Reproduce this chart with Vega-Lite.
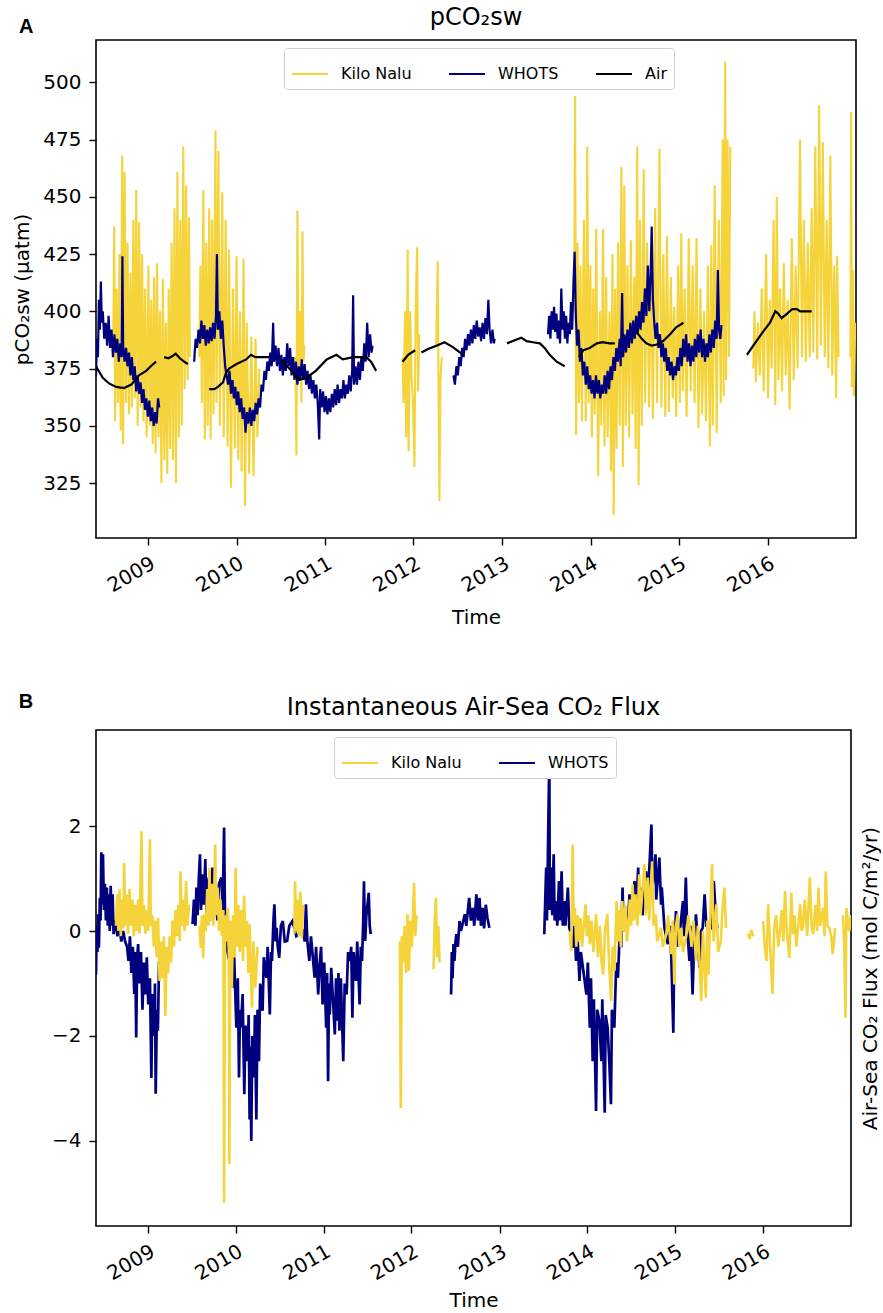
{
"$schema": "https://vega.github.io/schema/vega-lite/v6.json",
"background": "white",
"padding": {"left": 12, "top": 5, "right": 0, "bottom": 0},
"spacing": 63,
"config": {
 "font": "DejaVu Sans",
 "view": {"stroke": "black", "strokeWidth": 1.6},
 "axis": {"labelFont": "DejaVu Sans", "titleFont": "DejaVu Sans", "labelFontSize": 20, "titleFontSize": 20, "titleFontWeight": "normal", "labelColor": "black", "titleColor": "black", "tickColor": "black", "tickSize": 7, "tickWidth": 1.4, "grid": false, "domain": false, "labelPadding": 8},
 "title": {"font": "DejaVu Sans", "fontSize": 24, "fontWeight": "normal", "color": "black", "offset": 10}
},
"resolve": {"scale": {"color": "independent", "x": "independent", "y": "independent"}, "legend": {"color": "independent"}},
"datasets": {
"kA": [
{"t":"2008-08-10","v":385,"g":1},{"t":"2008-08-14","v":437,"g":1},{"t":"2008-08-18","v":352,"g":1},{"t":"2008-08-24","v":410,"g":1},{"t":"2008-08-30","v":360,"g":1},{"t":"2008-09-05","v":425,"g":1},{"t":"2008-09-10","v":348,"g":1},{"t":"2008-09-16","v":468,"g":1},{"t":"2008-09-20","v":342,"g":1},{"t":"2008-09-26","v":461,"g":1},{"t":"2008-10-02","v":360,"g":1},{"t":"2008-10-08","v":430,"g":1},{"t":"2008-10-14","v":355,"g":1},{"t":"2008-10-20","v":417,"g":1},{"t":"2008-10-26","v":358,"g":1},{"t":"2008-11-01","v":440,"g":1},{"t":"2008-11-07","v":362,"g":1},{"t":"2008-11-13","v":453,"g":1},{"t":"2008-11-19","v":350,"g":1},{"t":"2008-11-25","v":439,"g":1},{"t":"2008-12-01","v":358,"g":1},{"t":"2008-12-07","v":425,"g":1},{"t":"2008-12-13","v":352,"g":1},{"t":"2008-12-19","v":410,"g":1},{"t":"2008-12-26","v":345,"g":1},{"t":"2009-01-02","v":420,"g":1},{"t":"2009-01-08","v":350,"g":1},{"t":"2009-01-14","v":405,"g":1},{"t":"2009-01-20","v":342,"g":1},{"t":"2009-01-26","v":415,"g":1},{"t":"2009-02-01","v":338,"g":1},{"t":"2009-02-07","v":421,"g":1},{"t":"2009-02-13","v":345,"g":1},{"t":"2009-02-19","v":400,"g":1},{"t":"2009-02-25","v":325,"g":1},{"t":"2009-03-03","v":414,"g":1},{"t":"2009-03-09","v":335,"g":1},{"t":"2009-03-15","v":395,"g":1},{"t":"2009-03-21","v":329,"g":1},{"t":"2009-03-27","v":410,"g":1},{"t":"2009-04-02","v":340,"g":1},{"t":"2009-04-08","v":430,"g":1},{"t":"2009-04-14","v":335,"g":1},{"t":"2009-04-20","v":445,"g":1},{"t":"2009-04-26","v":325,"g":1},{"t":"2009-05-02","v":461,"g":1},{"t":"2009-05-08","v":345,"g":1},{"t":"2009-05-14","v":440,"g":1},{"t":"2009-05-20","v":350,"g":1},{"t":"2009-05-26","v":472,"g":1},{"t":"2009-06-01","v":366,"g":1},{"t":"2009-06-07","v":455,"g":1},{"t":"2009-06-13","v":370,"g":1},{"t":"2009-06-19","v":441,"g":1},{"t":"2009-06-22","v":380,"g":1},
{"t":"2009-07-31","v":380,"g":2},{"t":"2009-08-05","v":420,"g":2},{"t":"2009-08-11","v":360,"g":2},{"t":"2009-08-17","v":453,"g":2},{"t":"2009-08-23","v":344,"g":2},{"t":"2009-08-29","v":430,"g":2},{"t":"2009-09-04","v":350,"g":2},{"t":"2009-09-10","v":445,"g":2},{"t":"2009-09-16","v":344,"g":2},{"t":"2009-09-22","v":440,"g":2},{"t":"2009-09-28","v":355,"g":2},{"t":"2009-10-06","v":479,"g":2},{"t":"2009-10-10","v":360,"g":2},{"t":"2009-10-18","v":470,"g":2},{"t":"2009-10-24","v":350,"g":2},{"t":"2009-11-03","v":452,"g":2},{"t":"2009-11-09","v":345,"g":2},{"t":"2009-11-17","v":440,"g":2},{"t":"2009-11-25","v":341,"g":2},{"t":"2009-12-01","v":427,"g":2},{"t":"2009-12-09","v":323,"g":2},{"t":"2009-12-17","v":410,"g":2},{"t":"2009-12-25","v":340,"g":2},{"t":"2010-01-01","v":424,"g":2},{"t":"2010-01-08","v":335,"g":2},{"t":"2010-01-15","v":400,"g":2},{"t":"2010-01-22","v":330,"g":2},{"t":"2010-01-30","v":423,"g":2},{"t":"2010-02-05","v":315,"g":2},{"t":"2010-02-12","v":395,"g":2},{"t":"2010-02-22","v":329,"g":2},{"t":"2010-03-03","v":389,"g":2},{"t":"2010-03-12","v":328,"g":2},{"t":"2010-03-20","v":388,"g":2},{"t":"2010-03-28","v":345,"g":2},{"t":"2010-04-05","v":375,"g":2},
{"t":"2010-09-01","v":380,"g":3},{"t":"2010-09-05","v":337,"g":3},{"t":"2010-09-09","v":444,"g":3},{"t":"2010-09-14","v":370,"g":3},{"t":"2010-09-20","v":400,"g":3},{"t":"2010-09-26","v":360,"g":3},{"t":"2010-09-30","v":435,"g":3},{"t":"2010-10-04","v":378,"g":3},{"t":"2010-10-08","v":385,"g":3},
{"t":"2011-11-17","v":380,"g":4},{"t":"2011-11-21","v":360,"g":4},{"t":"2011-11-27","v":400,"g":4},{"t":"2011-12-02","v":345,"g":4},{"t":"2011-12-08","v":427,"g":4},{"t":"2011-12-12","v":339,"g":4},{"t":"2011-12-18","v":400,"g":4},{"t":"2011-12-24","v":372,"g":4},{"t":"2011-12-30","v":360,"g":4},{"t":"2012-01-05","v":332,"g":4},{"t":"2012-01-10","v":400,"g":4},{"t":"2012-01-16","v":428,"g":4},{"t":"2012-01-20","v":365,"g":4},{"t":"2012-01-25","v":390,"g":4},
{"t":"2012-04-04","v":385,"g":5},{"t":"2012-04-10","v":422,"g":5},{"t":"2012-04-14","v":360,"g":5},{"t":"2012-04-17","v":317,"g":5},{"t":"2012-04-21","v":370,"g":5},{"t":"2012-04-27","v":380,"g":5},
{"t":"2013-10-25","v":400,"g":6},{"t":"2013-10-29","v":494,"g":6},{"t":"2013-11-02","v":346,"g":6},{"t":"2013-11-08","v":430,"g":6},{"t":"2013-11-14","v":360,"g":6},{"t":"2013-11-20","v":420,"g":6},{"t":"2013-11-26","v":352,"g":6},{"t":"2013-12-04","v":440,"g":6},{"t":"2013-12-12","v":352,"g":6},{"t":"2013-12-18","v":472,"g":6},{"t":"2013-12-24","v":360,"g":6},{"t":"2013-12-31","v":420,"g":6},{"t":"2014-01-06","v":345,"g":6},{"t":"2014-01-12","v":410,"g":6},{"t":"2014-01-18","v":355,"g":6},{"t":"2014-01-24","v":436,"g":6},{"t":"2014-02-01","v":328,"g":6},{"t":"2014-02-08","v":400,"g":6},{"t":"2014-02-14","v":350,"g":6},{"t":"2014-02-21","v":436,"g":6},{"t":"2014-02-27","v":341,"g":6},{"t":"2014-03-06","v":415,"g":6},{"t":"2014-03-12","v":345,"g":6},{"t":"2014-03-20","v":400,"g":6},{"t":"2014-03-26","v":330,"g":6},{"t":"2014-04-01","v":425,"g":6},{"t":"2014-04-06","v":311,"g":6},{"t":"2014-04-12","v":410,"g":6},{"t":"2014-04-18","v":340,"g":6},{"t":"2014-04-24","v":430,"g":6},{"t":"2014-05-01","v":350,"g":6},{"t":"2014-05-08","v":463,"g":6},{"t":"2014-05-14","v":332,"g":6},{"t":"2014-05-20","v":455,"g":6},{"t":"2014-05-26","v":350,"g":6},{"t":"2014-06-02","v":420,"g":6},{"t":"2014-06-09","v":345,"g":6},{"t":"2014-06-16","v":431,"g":6},{"t":"2014-06-23","v":355,"g":6},{"t":"2014-06-30","v":415,"g":6},{"t":"2014-07-06","v":340,"g":6},{"t":"2014-07-12","v":472,"g":6},{"t":"2014-07-18","v":324,"g":6},{"t":"2014-07-24","v":440,"g":6},{"t":"2014-07-31","v":350,"g":6},{"t":"2014-08-08","v":462,"g":6},{"t":"2014-08-14","v":360,"g":6},{"t":"2014-08-22","v":430,"g":6},{"t":"2014-08-30","v":358,"g":6},{"t":"2014-09-07","v":420,"g":6},{"t":"2014-09-15","v":353,"g":6},{"t":"2014-09-24","v":445,"g":6},{"t":"2014-10-02","v":360,"g":6},{"t":"2014-10-12","v":471,"g":6},{"t":"2014-10-20","v":358,"g":6},{"t":"2014-10-28","v":425,"g":6},{"t":"2014-11-05","v":354,"g":6},{"t":"2014-11-12","v":433,"g":6},{"t":"2014-11-20","v":356,"g":6},{"t":"2014-11-28","v":415,"g":6},{"t":"2014-12-06","v":362,"g":6},{"t":"2014-12-12","v":402,"g":6},{"t":"2014-12-20","v":354,"g":6},{"t":"2014-12-28","v":420,"g":6},{"t":"2015-01-04","v":360,"g":6},{"t":"2015-01-10","v":434,"g":6},{"t":"2015-01-16","v":365,"g":6},{"t":"2015-01-24","v":410,"g":6},{"t":"2015-02-01","v":354,"g":6},{"t":"2015-02-10","v":432,"g":6},{"t":"2015-02-18","v":365,"g":6},{"t":"2015-02-26","v":420,"g":6},{"t":"2015-03-06","v":360,"g":6},{"t":"2015-03-14","v":432,"g":6},{"t":"2015-03-22","v":349,"g":6},{"t":"2015-03-30","v":410,"g":6},{"t":"2015-04-06","v":355,"g":6},{"t":"2015-04-14","v":400,"g":6},{"t":"2015-04-22","v":352,"g":6},{"t":"2015-04-30","v":420,"g":6},{"t":"2015-05-08","v":341,"g":6},{"t":"2015-05-14","v":429,"g":6},{"t":"2015-05-20","v":350,"g":6},{"t":"2015-05-28","v":455,"g":6},{"t":"2015-06-05","v":347,"g":6},{"t":"2015-06-14","v":440,"g":6},{"t":"2015-06-22","v":360,"g":6},{"t":"2015-06-30","v":475,"g":6},{"t":"2015-07-04","v":363,"g":6},{"t":"2015-07-10","v":509,"g":6},{"t":"2015-07-14","v":370,"g":6},{"t":"2015-07-20","v":475,"g":6},{"t":"2015-07-26","v":380,"g":6},{"t":"2015-07-31","v":472,"g":6},
{"t":"2015-11-03","v":375,"g":7},{"t":"2015-11-08","v":400,"g":7},{"t":"2015-11-14","v":369,"g":7},{"t":"2015-11-22","v":395,"g":7},{"t":"2015-11-30","v":372,"g":7},{"t":"2015-12-08","v":410,"g":7},{"t":"2015-12-16","v":365,"g":7},{"t":"2015-12-26","v":425,"g":7},{"t":"2016-01-03","v":362,"g":7},{"t":"2016-01-10","v":405,"g":7},{"t":"2016-01-18","v":375,"g":7},{"t":"2016-01-26","v":440,"g":7},{"t":"2016-02-02","v":359,"g":7},{"t":"2016-02-08","v":450,"g":7},{"t":"2016-02-15","v":370,"g":7},{"t":"2016-02-22","v":410,"g":7},{"t":"2016-03-01","v":365,"g":7},{"t":"2016-03-08","v":421,"g":7},{"t":"2016-03-16","v":372,"g":7},{"t":"2016-03-24","v":405,"g":7},{"t":"2016-04-01","v":357,"g":7},{"t":"2016-04-10","v":432,"g":7},{"t":"2016-04-18","v":370,"g":7},{"t":"2016-04-26","v":420,"g":7},{"t":"2016-05-04","v":375,"g":7},{"t":"2016-05-14","v":475,"g":7},{"t":"2016-05-22","v":380,"g":7},{"t":"2016-05-30","v":440,"g":7},{"t":"2016-06-07","v":378,"g":7},{"t":"2016-06-15","v":430,"g":7},{"t":"2016-06-23","v":380,"g":7},{"t":"2016-07-01","v":445,"g":7},{"t":"2016-07-08","v":382,"g":7},{"t":"2016-07-16","v":472,"g":7},{"t":"2016-07-24","v":379,"g":7},{"t":"2016-08-01","v":490,"g":7},{"t":"2016-08-08","v":385,"g":7},{"t":"2016-08-16","v":474,"g":7},{"t":"2016-08-24","v":380,"g":7},{"t":"2016-09-01","v":440,"g":7},{"t":"2016-09-08","v":375,"g":7},{"t":"2016-09-16","v":468,"g":7},{"t":"2016-09-24","v":372,"g":7},{"t":"2016-10-02","v":420,"g":7},{"t":"2016-10-10","v":362,"g":7},{"t":"2016-10-14","v":424,"g":7},{"t":"2016-10-20","v":380,"g":7},
{"t":"2016-12-08","v":380,"g":8},{"t":"2016-12-11","v":487,"g":8},{"t":"2016-12-14","v":367,"g":8},{"t":"2016-12-18","v":418,"g":8},{"t":"2016-12-22","v":363,"g":8},{"t":"2016-12-28","v":395,"g":8}
],
"wA": [
{"t":"2008-05-31","v":372,"g":11},{"t":"2008-06-04","v":388,"g":11},{"t":"2008-06-08","v":380,"g":11},{"t":"2008-06-12","v":405,"g":11},{"t":"2008-06-16","v":392,"g":11},{"t":"2008-06-20","v":413,"g":11},{"t":"2008-06-24","v":395,"g":11},{"t":"2008-06-28","v":400,"g":11},{"t":"2008-07-04","v":388,"g":11},{"t":"2008-07-10","v":395,"g":11},{"t":"2008-07-16","v":385,"g":11},{"t":"2008-07-22","v":398,"g":11},{"t":"2008-07-28","v":384,"g":11},{"t":"2008-08-03","v":392,"g":11},{"t":"2008-08-09","v":380,"g":11},{"t":"2008-08-15","v":390,"g":11},{"t":"2008-08-21","v":382,"g":11},{"t":"2008-08-27","v":388,"g":11},{"t":"2008-09-02","v":378,"g":11},{"t":"2008-09-08","v":386,"g":11},{"t":"2008-09-14","v":380,"g":11},{"t":"2008-09-17","v":424,"g":11},{"t":"2008-09-20","v":385,"g":11},{"t":"2008-09-26","v":378,"g":11},{"t":"2008-10-02","v":384,"g":11},{"t":"2008-10-08","v":376,"g":11},{"t":"2008-10-14","v":382,"g":11},{"t":"2008-10-20","v":372,"g":11},{"t":"2008-10-26","v":380,"g":11},{"t":"2008-11-01","v":370,"g":11},{"t":"2008-11-07","v":376,"g":11},{"t":"2008-11-13","v":365,"g":11},{"t":"2008-11-19","v":372,"g":11},{"t":"2008-11-25","v":364,"g":11},{"t":"2008-12-01","v":369,"g":11},{"t":"2008-12-07","v":360,"g":11},{"t":"2008-12-13","v":366,"g":11},{"t":"2008-12-19","v":357,"g":11},{"t":"2008-12-25","v":362,"g":11},{"t":"2008-12-31","v":354,"g":11},{"t":"2009-01-06","v":361,"g":11},{"t":"2009-01-12","v":352,"g":11},{"t":"2009-01-18","v":358,"g":11},{"t":"2009-01-24","v":350,"g":11},{"t":"2009-01-30","v":356,"g":11},{"t":"2009-02-05","v":351,"g":11},{"t":"2009-02-11","v":362,"g":11},{"t":"2009-02-16","v":358,"g":11},
{"t":"2009-07-10","v":378,"g":12},{"t":"2009-07-16","v":388,"g":12},{"t":"2009-07-22","v":384,"g":12},{"t":"2009-07-28","v":392,"g":12},{"t":"2009-08-03","v":386,"g":12},{"t":"2009-08-09","v":396,"g":12},{"t":"2009-08-15","v":388,"g":12},{"t":"2009-08-21","v":394,"g":12},{"t":"2009-08-27","v":385,"g":12},{"t":"2009-09-02","v":392,"g":12},{"t":"2009-09-08","v":386,"g":12},{"t":"2009-09-14","v":393,"g":12},{"t":"2009-09-20","v":387,"g":12},{"t":"2009-09-26","v":395,"g":12},{"t":"2009-10-02","v":388,"g":12},{"t":"2009-10-08","v":398,"g":12},{"t":"2009-10-12","v":425,"g":12},{"t":"2009-10-16","v":392,"g":12},{"t":"2009-10-22","v":400,"g":12},{"t":"2009-10-28","v":388,"g":12},{"t":"2009-11-03","v":396,"g":12},{"t":"2009-11-09","v":385,"g":12},{"t":"2009-11-15","v":376,"g":12},{"t":"2009-11-21","v":372,"g":12},{"t":"2009-11-27","v":368,"g":12},{"t":"2009-12-03","v":374,"g":12},{"t":"2009-12-09","v":364,"g":12},{"t":"2009-12-15","v":370,"g":12},{"t":"2009-12-21","v":362,"g":12},{"t":"2009-12-27","v":367,"g":12},{"t":"2010-01-02","v":359,"g":12},{"t":"2010-01-08","v":365,"g":12},{"t":"2010-01-14","v":356,"g":12},{"t":"2010-01-20","v":362,"g":12},{"t":"2010-01-26","v":353,"g":12},{"t":"2010-02-01","v":358,"g":12},{"t":"2010-02-07","v":347,"g":12},{"t":"2010-02-13","v":356,"g":12},{"t":"2010-02-19","v":351,"g":12},{"t":"2010-02-25","v":358,"g":12},{"t":"2010-03-03","v":350,"g":12},{"t":"2010-03-09","v":357,"g":12},{"t":"2010-03-15","v":352,"g":12},{"t":"2010-03-21","v":360,"g":12},{"t":"2010-03-27","v":355,"g":12},{"t":"2010-04-02","v":362,"g":12},{"t":"2010-04-08","v":358,"g":12},{"t":"2010-04-14","v":368,"g":12},{"t":"2010-04-20","v":365,"g":12},{"t":"2010-04-26","v":374,"g":12},{"t":"2010-05-02","v":370,"g":12},{"t":"2010-05-08","v":378,"g":12},{"t":"2010-05-14","v":374,"g":12},{"t":"2010-05-20","v":382,"g":12},{"t":"2010-05-26","v":376,"g":12},{"t":"2010-06-01","v":395,"g":12},{"t":"2010-06-05","v":378,"g":12},{"t":"2010-06-11","v":385,"g":12},{"t":"2010-06-17","v":376,"g":12},{"t":"2010-06-23","v":384,"g":12},{"t":"2010-06-29","v":374,"g":12},{"t":"2010-07-05","v":381,"g":12},{"t":"2010-07-11","v":372,"g":12},{"t":"2010-07-17","v":380,"g":12},{"t":"2010-07-23","v":374,"g":12},{"t":"2010-07-29","v":386,"g":12},{"t":"2010-08-04","v":376,"g":12},{"t":"2010-08-10","v":384,"g":12},{"t":"2010-08-16","v":372,"g":12},{"t":"2010-08-22","v":380,"g":12},{"t":"2010-08-28","v":370,"g":12},{"t":"2010-09-03","v":378,"g":12},{"t":"2010-09-09","v":368,"g":12},{"t":"2010-09-15","v":376,"g":12},{"t":"2010-09-21","v":370,"g":12},{"t":"2010-09-27","v":379,"g":12},{"t":"2010-10-03","v":370,"g":12},{"t":"2010-10-09","v":377,"g":12},{"t":"2010-10-15","v":368,"g":12},{"t":"2010-10-21","v":374,"g":12},{"t":"2010-10-27","v":366,"g":12},{"t":"2010-11-02","v":372,"g":12},{"t":"2010-11-08","v":364,"g":12},{"t":"2010-11-14","v":370,"g":12},{"t":"2010-11-20","v":362,"g":12},{"t":"2010-11-26","v":368,"g":12},{"t":"2010-12-02","v":360,"g":12},{"t":"2010-12-08","v":344,"g":12},{"t":"2010-12-12","v":366,"g":12},{"t":"2010-12-18","v":358,"g":12},{"t":"2010-12-24","v":365,"g":12},{"t":"2010-12-30","v":356,"g":12},{"t":"2011-01-05","v":363,"g":12},{"t":"2011-01-11","v":355,"g":12},{"t":"2011-01-17","v":362,"g":12},{"t":"2011-01-23","v":356,"g":12},{"t":"2011-01-29","v":364,"g":12},{"t":"2011-02-04","v":358,"g":12},{"t":"2011-02-10","v":366,"g":12},{"t":"2011-02-16","v":359,"g":12},{"t":"2011-02-22","v":368,"g":12},{"t":"2011-02-28","v":360,"g":12},{"t":"2011-03-06","v":366,"g":12},{"t":"2011-03-12","v":362,"g":12},{"t":"2011-03-18","v":370,"g":12},{"t":"2011-03-24","v":362,"g":12},{"t":"2011-03-30","v":368,"g":12},{"t":"2011-04-05","v":364,"g":12},{"t":"2011-04-11","v":372,"g":12},{"t":"2011-04-17","v":365,"g":12},{"t":"2011-04-23","v":374,"g":12},{"t":"2011-04-27","v":407,"g":12},{"t":"2011-05-01","v":368,"g":12},{"t":"2011-05-07","v":376,"g":12},{"t":"2011-05-13","v":368,"g":12},{"t":"2011-05-19","v":378,"g":12},{"t":"2011-05-25","v":370,"g":12},{"t":"2011-05-31","v":380,"g":12},{"t":"2011-06-06","v":374,"g":12},{"t":"2011-06-12","v":386,"g":12},{"t":"2011-06-18","v":378,"g":12},{"t":"2011-06-24","v":395,"g":12},{"t":"2011-06-30","v":380,"g":12},{"t":"2011-07-06","v":390,"g":12},{"t":"2011-07-12","v":382,"g":12},{"t":"2011-07-16","v":385,"g":12},
{"t":"2012-06-14","v":372,"g":13},{"t":"2012-06-20","v":368,"g":13},{"t":"2012-06-26","v":376,"g":13},{"t":"2012-07-02","v":372,"g":13},{"t":"2012-07-08","v":380,"g":13},{"t":"2012-07-14","v":376,"g":13},{"t":"2012-07-20","v":384,"g":13},{"t":"2012-07-26","v":380,"g":13},{"t":"2012-08-01","v":388,"g":13},{"t":"2012-08-07","v":383,"g":13},{"t":"2012-08-13","v":390,"g":13},{"t":"2012-08-19","v":385,"g":13},{"t":"2012-08-25","v":392,"g":13},{"t":"2012-08-31","v":386,"g":13},{"t":"2012-09-06","v":394,"g":13},{"t":"2012-09-12","v":388,"g":13},{"t":"2012-09-18","v":396,"g":13},{"t":"2012-09-24","v":389,"g":13},{"t":"2012-09-30","v":393,"g":13},{"t":"2012-10-06","v":387,"g":13},{"t":"2012-10-12","v":395,"g":13},{"t":"2012-10-18","v":388,"g":13},{"t":"2012-10-24","v":397,"g":13},{"t":"2012-10-30","v":390,"g":13},{"t":"2012-11-05","v":405,"g":13},{"t":"2012-11-10","v":392,"g":13},{"t":"2012-11-16","v":386,"g":13},{"t":"2012-11-22","v":392,"g":13},{"t":"2012-11-28","v":386,"g":13},{"t":"2012-12-01","v":388,"g":13},
{"t":"2013-07-09","v":390,"g":14},{"t":"2013-07-14","v":398,"g":14},{"t":"2013-07-19","v":388,"g":14},{"t":"2013-07-24","v":400,"g":14},{"t":"2013-07-29","v":392,"g":14},{"t":"2013-08-03","v":402,"g":14},{"t":"2013-08-08","v":391,"g":14},{"t":"2013-08-13","v":399,"g":14},{"t":"2013-08-18","v":388,"g":14},{"t":"2013-08-23","v":396,"g":14},{"t":"2013-08-28","v":386,"g":14},{"t":"2013-09-02","v":410,"g":14},{"t":"2013-09-07","v":392,"g":14},{"t":"2013-09-12","v":400,"g":14},{"t":"2013-09-17","v":388,"g":14},{"t":"2013-09-22","v":398,"g":14},{"t":"2013-09-27","v":386,"g":14},{"t":"2013-10-02","v":395,"g":14},{"t":"2013-10-07","v":390,"g":14},{"t":"2013-10-12","v":404,"g":14},{"t":"2013-10-17","v":392,"g":14},{"t":"2013-10-22","v":412,"g":14},{"t":"2013-10-27","v":426,"g":14},{"t":"2013-11-01","v":398,"g":14},{"t":"2013-11-06","v":385,"g":14},{"t":"2013-11-12","v":392,"g":14},{"t":"2013-11-18","v":378,"g":14},{"t":"2013-11-24","v":384,"g":14},{"t":"2013-11-30","v":372,"g":14},{"t":"2013-12-06","v":378,"g":14},{"t":"2013-12-12","v":368,"g":14},{"t":"2013-12-18","v":376,"g":14},{"t":"2013-12-24","v":366,"g":14},{"t":"2013-12-30","v":372,"g":14},{"t":"2014-01-05","v":364,"g":14},{"t":"2014-01-11","v":370,"g":14},{"t":"2014-01-17","v":362,"g":14},{"t":"2014-01-23","v":372,"g":14},{"t":"2014-01-29","v":364,"g":14},{"t":"2014-02-04","v":370,"g":14},{"t":"2014-02-10","v":362,"g":14},{"t":"2014-02-16","v":368,"g":14},{"t":"2014-02-22","v":364,"g":14},{"t":"2014-02-28","v":372,"g":14},{"t":"2014-03-06","v":364,"g":14},{"t":"2014-03-12","v":374,"g":14},{"t":"2014-03-18","v":366,"g":14},{"t":"2014-03-24","v":376,"g":14},{"t":"2014-03-30","v":370,"g":14},{"t":"2014-04-05","v":380,"g":14},{"t":"2014-04-11","v":374,"g":14},{"t":"2014-04-17","v":384,"g":14},{"t":"2014-04-23","v":378,"g":14},{"t":"2014-05-01","v":388,"g":14},{"t":"2014-05-05","v":376,"g":14},{"t":"2014-05-11","v":408,"g":14},{"t":"2014-05-15","v":380,"g":14},{"t":"2014-05-21","v":390,"g":14},{"t":"2014-05-27","v":382,"g":14},{"t":"2014-06-02","v":392,"g":14},{"t":"2014-06-08","v":384,"g":14},{"t":"2014-06-14","v":395,"g":14},{"t":"2014-06-20","v":386,"g":14},{"t":"2014-06-26","v":396,"g":14},{"t":"2014-07-02","v":388,"g":14},{"t":"2014-07-08","v":398,"g":14},{"t":"2014-07-14","v":390,"g":14},{"t":"2014-07-20","v":400,"g":14},{"t":"2014-07-26","v":392,"g":14},{"t":"2014-08-01","v":404,"g":14},{"t":"2014-08-07","v":395,"g":14},{"t":"2014-08-13","v":410,"g":14},{"t":"2014-08-19","v":398,"g":14},{"t":"2014-08-25","v":420,"g":14},{"t":"2014-08-31","v":400,"g":14},{"t":"2014-09-05","v":414,"g":14},{"t":"2014-09-10","v":437,"g":14},{"t":"2014-09-15","v":405,"g":14},{"t":"2014-09-20","v":396,"g":14},{"t":"2014-09-26","v":388,"g":14},{"t":"2014-10-02","v":395,"g":14},{"t":"2014-10-08","v":384,"g":14},{"t":"2014-10-14","v":390,"g":14},{"t":"2014-10-20","v":380,"g":14},{"t":"2014-10-26","v":386,"g":14},{"t":"2014-11-01","v":378,"g":14},{"t":"2014-11-07","v":384,"g":14},{"t":"2014-11-13","v":374,"g":14},{"t":"2014-11-19","v":380,"g":14},{"t":"2014-11-25","v":372,"g":14},{"t":"2014-12-01","v":378,"g":14},{"t":"2014-12-07","v":370,"g":14},{"t":"2014-12-13","v":376,"g":14},{"t":"2014-12-19","v":372,"g":14},{"t":"2014-12-25","v":380,"g":14},{"t":"2014-12-31","v":374,"g":14},{"t":"2015-01-06","v":384,"g":14},{"t":"2015-01-12","v":376,"g":14},{"t":"2015-01-18","v":388,"g":14},{"t":"2015-01-24","v":380,"g":14},{"t":"2015-01-30","v":390,"g":14},{"t":"2015-02-05","v":378,"g":14},{"t":"2015-02-11","v":386,"g":14},{"t":"2015-02-17","v":376,"g":14},{"t":"2015-02-23","v":385,"g":14},{"t":"2015-03-01","v":378,"g":14},{"t":"2015-03-07","v":388,"g":14},{"t":"2015-03-13","v":380,"g":14},{"t":"2015-03-19","v":390,"g":14},{"t":"2015-03-25","v":382,"g":14},{"t":"2015-03-31","v":392,"g":14},{"t":"2015-04-06","v":380,"g":14},{"t":"2015-04-12","v":388,"g":14},{"t":"2015-04-18","v":378,"g":14},{"t":"2015-04-24","v":386,"g":14},{"t":"2015-04-30","v":380,"g":14},{"t":"2015-05-06","v":390,"g":14},{"t":"2015-05-12","v":382,"g":14},{"t":"2015-05-18","v":392,"g":14},{"t":"2015-05-24","v":384,"g":14},{"t":"2015-05-30","v":396,"g":14},{"t":"2015-06-05","v":388,"g":14},{"t":"2015-06-10","v":418,"g":14},{"t":"2015-06-15","v":392,"g":14},{"t":"2015-06-20","v":388,"g":14},{"t":"2015-06-25","v":394,"g":14}
],
"aA": [
{"t":"2008-05-31","v":376,"g":21},{"t":"2008-06-28","v":371,"g":21},{"t":"2008-07-24","v":368.5,"g":21},{"t":"2008-08-22","v":367,"g":21},{"t":"2008-09-23","v":366.5,"g":21},{"t":"2008-10-24","v":368,"g":21},{"t":"2008-11-24","v":372,"g":21},{"t":"2008-12-24","v":374,"g":21},{"t":"2009-01-12","v":376,"g":21},{"t":"2009-02-03","v":378,"g":21},
{"t":"2009-03-08","v":380,"g":22},{"t":"2009-03-25","v":379.5,"g":22},{"t":"2009-04-12","v":380.5,"g":22},{"t":"2009-04-25","v":381.5,"g":22},{"t":"2009-05-12","v":379.5,"g":22},{"t":"2009-05-30","v":378,"g":22},{"t":"2009-06-14","v":377,"g":22},
{"t":"2009-09-10","v":366,"g":23},{"t":"2009-10-01","v":366,"g":23},{"t":"2009-10-16","v":367,"g":23},{"t":"2009-11-06","v":369,"g":23},{"t":"2009-11-18","v":373,"g":23},{"t":"2009-12-01","v":375,"g":23},{"t":"2010-01-01","v":377,"g":23},{"t":"2010-02-10","v":379,"g":23},{"t":"2010-03-01","v":381,"g":23},{"t":"2010-03-20","v":380,"g":23},{"t":"2010-04-15","v":380,"g":23},{"t":"2010-05-15","v":380,"g":23},
{"t":"2010-07-01","v":379,"g":24},{"t":"2010-08-07","v":375,"g":24},{"t":"2010-09-16","v":370,"g":24},{"t":"2010-10-16","v":371,"g":24},{"t":"2010-11-24","v":374,"g":24},{"t":"2011-01-08","v":379,"g":24},{"t":"2011-02-17","v":381,"g":24},{"t":"2011-03-15","v":379,"g":24},{"t":"2011-04-27","v":380,"g":24},{"t":"2011-06-20","v":380,"g":24},{"t":"2011-07-10","v":378,"g":24},{"t":"2011-07-31","v":374,"g":24},
{"t":"2011-11-17","v":378,"g":25},{"t":"2011-12-10","v":381,"g":25},{"t":"2012-01-08","v":383,"g":25},
{"t":"2012-02-03","v":382,"g":26},{"t":"2012-03-01","v":383.5,"g":26},{"t":"2012-04-05","v":385,"g":26},{"t":"2012-05-08","v":386.5,"g":26},{"t":"2012-06-10","v":384.5,"g":26},{"t":"2012-07-05","v":382.5,"g":26},{"t":"2012-07-23","v":381,"g":26},
{"t":"2013-01-21","v":386,"g":27},{"t":"2013-02-14","v":387,"g":27},{"t":"2013-03-21","v":388.5,"g":27},{"t":"2013-04-12","v":387,"g":27},{"t":"2013-05-08","v":386.5,"g":27},{"t":"2013-06-06","v":386,"g":27},{"t":"2013-06-25","v":384,"g":27},{"t":"2013-07-16","v":381,"g":27},{"t":"2013-08-14","v":378,"g":27},{"t":"2013-09-16","v":376,"g":27},
{"t":"2013-11-14","v":380,"g":28},{"t":"2013-12-02","v":383,"g":28},{"t":"2013-12-28","v":384,"g":28},{"t":"2014-01-27","v":386,"g":28},{"t":"2014-02-20","v":386.5,"g":28},{"t":"2014-03-20","v":386,"g":28},{"t":"2014-04-11","v":386,"g":28},
{"t":"2014-07-09","v":391,"g":29},{"t":"2014-07-31","v":388,"g":29},{"t":"2014-08-19","v":386,"g":29},{"t":"2014-09-10","v":385,"g":29},{"t":"2014-10-01","v":385.5,"g":29},{"t":"2014-10-27","v":387,"g":29},{"t":"2014-11-25","v":390,"g":29},{"t":"2014-12-20","v":393,"g":29},{"t":"2015-01-19","v":395,"g":29},
{"t":"2015-10-08","v":381,"g":30},{"t":"2015-11-03","v":385,"g":30},{"t":"2015-12-13","v":391,"g":30},{"t":"2016-01-11","v":395,"g":30},{"t":"2016-02-02","v":400,"g":30},{"t":"2016-02-14","v":399,"g":30},{"t":"2016-02-28","v":397,"g":30},{"t":"2016-03-22","v":399,"g":30},{"t":"2016-04-12","v":401,"g":30},{"t":"2016-05-01","v":401,"g":30},{"t":"2016-05-15","v":400,"g":30},{"t":"2016-07-01","v":400,"g":30}
],
"kB": [
{"t":"2008-08-22","v":0.1,"g":31},{"t":"2008-08-27","v":0.7,"g":31},{"t":"2008-09-01","v":0.0,"g":31},{"t":"2008-09-06","v":0.8,"g":31},{"t":"2008-09-11","v":-0.1,"g":31},{"t":"2008-09-16","v":0.6,"g":31},{"t":"2008-09-21","v":0.05,"g":31},{"t":"2008-09-25","v":1.3,"g":31},{"t":"2008-09-29","v":0.1,"g":31},{"t":"2008-10-05","v":0.7,"g":31},{"t":"2008-10-11","v":-0.05,"g":31},{"t":"2008-10-17","v":0.8,"g":31},{"t":"2008-10-23","v":0.1,"g":31},{"t":"2008-10-29","v":0.6,"g":31},{"t":"2008-11-04","v":-0.1,"g":31},{"t":"2008-11-10","v":0.5,"g":31},{"t":"2008-11-16","v":0.0,"g":31},{"t":"2008-11-22","v":0.6,"g":31},{"t":"2008-11-28","v":-0.05,"g":31},{"t":"2008-12-06","v":1.9,"g":31},{"t":"2008-12-10","v":0.1,"g":31},{"t":"2008-12-16","v":0.5,"g":31},{"t":"2008-12-22","v":-0.05,"g":31},{"t":"2008-12-28","v":0.4,"g":31},{"t":"2009-01-03","v":0.0,"g":31},{"t":"2009-01-10","v":1.75,"g":31},{"t":"2009-01-14","v":0.1,"g":31},{"t":"2009-01-20","v":0.3,"g":31},{"t":"2009-01-26","v":-0.3,"g":31},{"t":"2009-02-01","v":0.2,"g":31},{"t":"2009-02-07","v":-0.5,"g":31},{"t":"2009-02-13","v":0.25,"g":31},{"t":"2009-02-19","v":-0.95,"g":31},{"t":"2009-02-25","v":-0.2,"g":31},{"t":"2009-03-03","v":-0.9,"g":31},{"t":"2009-03-09","v":-0.1,"g":31},{"t":"2009-03-15","v":-1.62,"g":31},{"t":"2009-03-21","v":-0.3,"g":31},{"t":"2009-03-27","v":-0.8,"g":31},{"t":"2009-04-02","v":-0.1,"g":31},{"t":"2009-04-08","v":-0.6,"g":31},{"t":"2009-04-14","v":0.2,"g":31},{"t":"2009-04-20","v":-0.3,"g":31},{"t":"2009-04-26","v":0.4,"g":31},{"t":"2009-05-02","v":-0.1,"g":31},{"t":"2009-05-08","v":0.5,"g":31},{"t":"2009-05-14","v":-0.19,"g":31},{"t":"2009-05-17","v":1.14,"g":31},{"t":"2009-05-22","v":0.1,"g":31},{"t":"2009-05-28","v":0.6,"g":31},{"t":"2009-06-03","v":0.0,"g":31},{"t":"2009-06-09","v":0.95,"g":31},{"t":"2009-06-15","v":0.1,"g":31},{"t":"2009-06-21","v":0.5,"g":31},
{"t":"2009-08-04","v":0.1,"g":32},{"t":"2009-08-09","v":-0.32,"g":32},{"t":"2009-08-14","v":0.3,"g":32},{"t":"2009-08-19","v":-0.51,"g":32},{"t":"2009-08-24","v":0.32,"g":32},{"t":"2009-08-30","v":0.0,"g":32},{"t":"2009-09-05","v":0.8,"g":32},{"t":"2009-09-11","v":0.1,"g":32},{"t":"2009-09-14","v":1.2,"g":32},{"t":"2009-09-19","v":0.2,"g":32},{"t":"2009-09-25","v":0.9,"g":32},{"t":"2009-10-01","v":0.1,"g":32},{"t":"2009-10-08","v":1.65,"g":32},{"t":"2009-10-12","v":0.3,"g":32},{"t":"2009-10-18","v":0.83,"g":32},{"t":"2009-10-24","v":0.0,"g":32},{"t":"2009-10-30","v":0.6,"g":32},{"t":"2009-11-05","v":-0.1,"g":32},{"t":"2009-11-11","v":0.4,"g":32},{"t":"2009-11-14","v":-5.17,"g":32},{"t":"2009-11-18","v":0.3,"g":32},{"t":"2009-11-24","v":-0.2,"g":32},{"t":"2009-11-30","v":0.44,"g":32},{"t":"2009-12-04","v":-0.5,"g":32},{"t":"2009-12-06","v":-4.44,"g":32},{"t":"2009-12-10","v":0.2,"g":32},{"t":"2009-12-16","v":-1.08,"g":32},{"t":"2009-12-22","v":0.3,"g":32},{"t":"2009-12-28","v":-0.5,"g":32},{"t":"2010-01-01","v":1.2,"g":32},{"t":"2010-01-06","v":-0.3,"g":32},{"t":"2010-01-12","v":0.5,"g":32},{"t":"2010-01-18","v":-0.4,"g":32},{"t":"2010-01-24","v":0.4,"g":32},{"t":"2010-02-01","v":-0.57,"g":32},{"t":"2010-02-05","v":0.67,"g":32},{"t":"2010-02-11","v":-0.3,"g":32},{"t":"2010-02-17","v":0.2,"g":32},{"t":"2010-02-23","v":-0.8,"g":32},{"t":"2010-02-28","v":0.13,"g":32},{"t":"2010-03-10","v":-1.46,"g":32},{"t":"2010-03-16","v":-0.2,"g":32},{"t":"2010-03-24","v":-1.08,"g":32},{"t":"2010-04-02","v":-0.3,"g":32},
{"t":"2010-09-02","v":-0.05,"g":33},{"t":"2010-09-05","v":0.95,"g":33},{"t":"2010-09-09","v":0.0,"g":33},{"t":"2010-09-15","v":0.6,"g":33},{"t":"2010-09-21","v":-0.1,"g":33},{"t":"2010-09-27","v":0.75,"g":33},{"t":"2010-10-03","v":-0.13,"g":33},{"t":"2010-10-08","v":0.5,"g":33},
{"t":"2011-11-14","v":-0.2,"g":34},{"t":"2011-11-18","v":-3.37,"g":34},{"t":"2011-11-22","v":-0.1,"g":34},{"t":"2011-11-28","v":-0.6,"g":34},{"t":"2011-12-04","v":0.1,"g":34},{"t":"2011-12-10","v":-0.8,"g":34},{"t":"2011-12-16","v":0.32,"g":34},{"t":"2011-12-22","v":-0.76,"g":34},{"t":"2011-12-28","v":0.2,"g":34},{"t":"2012-01-03","v":-0.3,"g":34},{"t":"2012-01-12","v":0.92,"g":34},{"t":"2012-01-17","v":-0.1,"g":34},{"t":"2012-01-23","v":0.3,"g":34},
{"t":"2012-04-02","v":-0.73,"g":35},{"t":"2012-04-07","v":0.2,"g":35},{"t":"2012-04-12","v":0.63,"g":35},{"t":"2012-04-17","v":-0.5,"g":35},{"t":"2012-04-22","v":0.1,"g":35},{"t":"2012-04-27","v":-0.6,"g":35},
{"t":"2013-10-19","v":0.0,"g":36},{"t":"2013-10-26","v":-0.38,"g":36},{"t":"2013-11-01","v":1.65,"g":36},{"t":"2013-11-05","v":0.1,"g":36},{"t":"2013-11-10","v":0.44,"g":36},{"t":"2013-11-16","v":-0.3,"g":36},{"t":"2013-11-22","v":0.3,"g":36},{"t":"2013-11-28","v":-0.19,"g":36},{"t":"2013-12-04","v":0.25,"g":36},{"t":"2013-12-10","v":-0.3,"g":36},{"t":"2013-12-24","v":0.51,"g":36},{"t":"2013-12-30","v":-0.1,"g":36},{"t":"2014-01-05","v":0.3,"g":36},{"t":"2014-01-11","v":-0.25,"g":36},{"t":"2014-01-18","v":0.2,"g":36},{"t":"2014-01-26","v":-0.4,"g":36},{"t":"2014-02-06","v":0.32,"g":36},{"t":"2014-02-14","v":-0.5,"g":36},{"t":"2014-02-22","v":0.1,"g":36},{"t":"2014-03-01","v":-0.6,"g":36},{"t":"2014-03-08","v":-0.83,"g":36},{"t":"2014-03-15","v":0.0,"g":36},{"t":"2014-03-25","v":0.32,"g":36},{"t":"2014-04-01","v":-0.6,"g":36},{"t":"2014-04-10","v":-1.33,"g":36},{"t":"2014-04-16","v":-0.3,"g":36},{"t":"2014-04-24","v":-0.76,"g":36},{"t":"2014-05-02","v":0.57,"g":36},{"t":"2014-05-08","v":-0.2,"g":36},{"t":"2014-05-14","v":0.4,"g":36},{"t":"2014-05-20","v":-0.3,"g":36},{"t":"2014-05-26","v":0.57,"g":36},{"t":"2014-06-01","v":0.0,"g":36},{"t":"2014-06-08","v":0.5,"g":36},{"t":"2014-06-14","v":-0.2,"g":36},{"t":"2014-06-20","v":0.06,"g":36},{"t":"2014-06-26","v":0.6,"g":36},{"t":"2014-07-02","v":0.1,"g":36},{"t":"2014-07-08","v":0.89,"g":36},{"t":"2014-07-14","v":0.2,"g":36},{"t":"2014-07-20","v":0.7,"g":36},{"t":"2014-07-28","v":0.1,"g":36},{"t":"2014-08-04","v":1.08,"g":36},{"t":"2014-08-10","v":0.3,"g":36},{"t":"2014-08-18","v":0.8,"g":36},{"t":"2014-08-26","v":1.27,"g":36},{"t":"2014-09-01","v":0.3,"g":36},{"t":"2014-09-09","v":1.02,"g":36},{"t":"2014-09-15","v":0.2,"g":36},{"t":"2014-09-27","v":1.33,"g":36},{"t":"2014-10-03","v":0.1,"g":36},{"t":"2014-10-12","v":0.32,"g":36},{"t":"2014-10-18","v":-0.2,"g":36},{"t":"2014-11-03","v":0.06,"g":36},{"t":"2014-11-10","v":-0.3,"g":36},{"t":"2014-11-25","v":-0.06,"g":36},{"t":"2014-12-02","v":0.3,"g":36},{"t":"2014-12-16","v":-0.44,"g":36},{"t":"2014-12-22","v":0.2,"g":36},{"t":"2014-12-28","v":-1.02,"g":36},{"t":"2015-01-04","v":0.1,"g":36},{"t":"2015-01-11","v":0.32,"g":36},{"t":"2015-01-18","v":-0.3,"g":36},{"t":"2015-01-26","v":0.06,"g":36},{"t":"2015-02-02","v":-0.4,"g":36},{"t":"2015-02-17","v":-0.06,"g":36},{"t":"2015-02-24","v":0.3,"g":36},{"t":"2015-03-10","v":-0.3,"g":36},{"t":"2015-03-18","v":0.2,"g":36},{"t":"2015-03-28","v":-0.57,"g":36},{"t":"2015-04-05","v":0.1,"g":36},{"t":"2015-04-19","v":-1.33,"g":36},{"t":"2015-04-26","v":0.0,"g":36},{"t":"2015-05-08","v":-1.27,"g":36},{"t":"2015-05-14","v":0.2,"g":36},{"t":"2015-05-19","v":-0.83,"g":36},{"t":"2015-05-25","v":0.1,"g":36},{"t":"2015-06-03","v":1.27,"g":36},{"t":"2015-06-09","v":-0.2,"g":36},{"t":"2015-06-21","v":0.51,"g":36},{"t":"2015-06-28","v":-0.4,"g":36},{"t":"2015-07-09","v":-0.19,"g":36},{"t":"2015-07-16","v":0.4,"g":36},{"t":"2015-07-24","v":0.83,"g":36},{"t":"2015-07-31","v":0.06,"g":36},
{"t":"2015-10-30","v":-0.05,"g":37},{"t":"2015-11-06","v":-0.15,"g":37},{"t":"2015-11-13","v":0.02,"g":37},{"t":"2015-11-21","v":-0.1,"g":37},
{"t":"2016-01-01","v":0.19,"g":38},{"t":"2016-01-08","v":-0.3,"g":38},{"t":"2016-01-15","v":-0.57,"g":38},{"t":"2016-01-22","v":0.51,"g":38},{"t":"2016-01-29","v":-0.2,"g":38},{"t":"2016-02-09","v":-1.2,"g":38},{"t":"2016-02-16","v":0.06,"g":38},{"t":"2016-02-24","v":0.3,"g":38},{"t":"2016-03-04","v":-0.3,"g":38},{"t":"2016-03-10","v":-0.06,"g":38},{"t":"2016-03-18","v":0.4,"g":38},{"t":"2016-03-25","v":-0.2,"g":38},{"t":"2016-04-01","v":0.76,"g":38},{"t":"2016-04-08","v":0.0,"g":38},{"t":"2016-04-19","v":-0.51,"g":38},{"t":"2016-04-27","v":0.73,"g":38},{"t":"2016-05-04","v":-0.06,"g":38},{"t":"2016-05-11","v":0.3,"g":38},{"t":"2016-05-18","v":-0.3,"g":38},{"t":"2016-06-03","v":0.51,"g":38},{"t":"2016-06-09","v":0.0,"g":38},{"t":"2016-06-14","v":0.06,"g":38},{"t":"2016-06-22","v":0.6,"g":38},{"t":"2016-07-02","v":-0.1,"g":38},{"t":"2016-07-13","v":1.02,"g":38},{"t":"2016-07-20","v":0.1,"g":38},{"t":"2016-07-27","v":-0.06,"g":38},{"t":"2016-08-05","v":0.5,"g":38},{"t":"2016-08-12","v":0.0,"g":38},{"t":"2016-08-18","v":0.83,"g":38},{"t":"2016-08-25","v":0.1,"g":38},{"t":"2016-09-06","v":0.44,"g":38},{"t":"2016-09-12","v":-0.1,"g":38},{"t":"2016-09-17","v":1.14,"g":38},{"t":"2016-09-24","v":0.1,"g":38},{"t":"2016-10-01","v":0.06,"g":38},{"t":"2016-10-10","v":-0.1,"g":38},{"t":"2016-10-16","v":-0.44,"g":38},{"t":"2016-10-26","v":0.06,"g":38},
{"t":"2016-11-28","v":0.3,"g":39},{"t":"2016-12-03","v":-0.3,"g":39},{"t":"2016-12-08","v":-1.65,"g":39},{"t":"2016-12-12","v":0.44,"g":39},{"t":"2016-12-18","v":0.2,"g":39},{"t":"2016-12-24","v":0.0,"g":39},{"t":"2016-12-30","v":0.3,"g":39}
],
"wB": [
{"t":"2008-05-31","v":-0.83,"g":41},{"t":"2008-06-03","v":0.1,"g":41},{"t":"2008-06-06","v":-0.4,"g":41},{"t":"2008-06-09","v":0.32,"g":41},{"t":"2008-06-12","v":-0.32,"g":41},{"t":"2008-06-16","v":0.63,"g":41},{"t":"2008-06-19","v":0.2,"g":41},{"t":"2008-06-22","v":1.5,"g":41},{"t":"2008-06-25","v":0.5,"g":41},{"t":"2008-06-29","v":1.46,"g":41},{"t":"2008-07-03","v":0.4,"g":41},{"t":"2008-07-07","v":0.9,"g":41},{"t":"2008-07-11","v":0.2,"g":41},{"t":"2008-07-15","v":0.83,"g":41},{"t":"2008-07-19","v":0.1,"g":41},{"t":"2008-07-23","v":0.7,"g":41},{"t":"2008-07-27","v":0.0,"g":41},{"t":"2008-07-31","v":0.86,"g":41},{"t":"2008-08-04","v":0.1,"g":41},{"t":"2008-08-08","v":0.7,"g":41},{"t":"2008-08-12","v":-0.06,"g":41},{"t":"2008-08-20","v":0.2,"g":41},{"t":"2008-08-28","v":-0.1,"g":41},{"t":"2008-09-05","v":0.1,"g":41},{"t":"2008-09-13","v":-0.2,"g":41},{"t":"2008-09-21","v":0.0,"g":41},{"t":"2008-09-29","v":-0.2,"g":41},{"t":"2008-10-07","v":-0.3,"g":41},{"t":"2008-10-13","v":-0.57,"g":41},{"t":"2008-10-19","v":-0.1,"g":41},{"t":"2008-10-25","v":-0.8,"g":41},{"t":"2008-10-31","v":-0.3,"g":41},{"t":"2008-11-06","v":-1.2,"g":41},{"t":"2008-11-10","v":-0.4,"g":41},{"t":"2008-11-14","v":-2.03,"g":41},{"t":"2008-11-18","v":-0.5,"g":41},{"t":"2008-11-22","v":-0.25,"g":41},{"t":"2008-11-28","v":-1.0,"g":41},{"t":"2008-12-04","v":-0.4,"g":41},{"t":"2008-12-10","v":-1.5,"g":41},{"t":"2008-12-16","v":-0.6,"g":41},{"t":"2008-12-22","v":-1.21,"g":41},{"t":"2008-12-28","v":-0.5,"g":41},{"t":"2009-01-03","v":-1.4,"g":41},{"t":"2009-01-10","v":-0.9,"g":41},{"t":"2009-01-16","v":-2.8,"g":41},{"t":"2009-01-20","v":-1.2,"g":41},{"t":"2009-01-26","v":-2.0,"g":41},{"t":"2009-01-31","v":-1.0,"g":41},{"t":"2009-02-03","v":-3.1,"g":41},{"t":"2009-02-08","v":-1.5,"g":41},{"t":"2009-02-12","v":-1.9,"g":41},{"t":"2009-02-17","v":-0.57,"g":41},
{"t":"2009-07-06","v":0.13,"g":42},{"t":"2009-07-12","v":0.6,"g":42},{"t":"2009-07-18","v":0.1,"g":42},{"t":"2009-07-22","v":0.83,"g":42},{"t":"2009-07-27","v":0.3,"g":42},{"t":"2009-08-01","v":1.0,"g":42},{"t":"2009-08-06","v":1.46,"g":42},{"t":"2009-08-10","v":0.4,"g":42},{"t":"2009-08-17","v":1.08,"g":42},{"t":"2009-08-22","v":0.5,"g":42},{"t":"2009-08-28","v":1.37,"g":42},{"t":"2009-09-02","v":0.3,"g":42},{"t":"2009-09-07","v":0.9,"g":42},{"t":"2009-09-12","v":1.02,"g":42},{"t":"2009-09-16","v":0.2,"g":42},{"t":"2009-09-22","v":0.8,"g":42},{"t":"2009-09-27","v":1.21,"g":42},{"t":"2009-10-02","v":0.3,"g":42},{"t":"2009-10-12","v":0.7,"g":42},{"t":"2009-10-17","v":0.2,"g":42},{"t":"2009-10-24","v":0.9,"g":42},{"t":"2009-11-03","v":1.02,"g":42},{"t":"2009-11-08","v":0.4,"g":42},{"t":"2009-11-14","v":1.97,"g":42},{"t":"2009-11-18","v":0.19,"g":42},{"t":"2009-11-24","v":-0.3,"g":42},{"t":"2009-12-06","v":-0.57,"g":42},{"t":"2009-12-12","v":-0.2,"g":42},{"t":"2009-12-20","v":-1.08,"g":42},{"t":"2009-12-26","v":-0.5,"g":42},{"t":"2010-01-04","v":-1.84,"g":42},{"t":"2010-01-10","v":-0.9,"g":42},{"t":"2010-01-15","v":-2.79,"g":42},{"t":"2010-01-19","v":-1.5,"g":42},{"t":"2010-01-23","v":-1.84,"g":42},{"t":"2010-01-30","v":-1.2,"g":42},{"t":"2010-02-06","v":-3.11,"g":42},{"t":"2010-02-11","v":-1.8,"g":42},{"t":"2010-02-20","v":-2.48,"g":42},{"t":"2010-02-24","v":-1.6,"g":42},{"t":"2010-02-28","v":-3.59,"g":42},{"t":"2010-03-03","v":-2.2,"g":42},{"t":"2010-03-07","v":-4.0,"g":42},{"t":"2010-03-11","v":-2.0,"g":42},{"t":"2010-03-18","v":-2.79,"g":42},{"t":"2010-03-22","v":-1.6,"g":42},{"t":"2010-03-28","v":-3.59,"g":42},{"t":"2010-04-02","v":-1.5,"g":42},{"t":"2010-04-08","v":-2.48,"g":42},{"t":"2010-04-13","v":-1.0,"g":42},{"t":"2010-04-23","v":-1.52,"g":42},{"t":"2010-04-28","v":-0.5,"g":42},{"t":"2010-05-09","v":-0.89,"g":42},{"t":"2010-05-14","v":-0.3,"g":42},{"t":"2010-05-23","v":-1.59,"g":42},{"t":"2010-05-28","v":-0.4,"g":42},{"t":"2010-06-01","v":-0.57,"g":42},{"t":"2010-06-07","v":0.2,"g":42},{"t":"2010-06-11","v":0.51,"g":42},{"t":"2010-06-16","v":-0.2,"g":42},{"t":"2010-06-20","v":0.06,"g":42},{"t":"2010-06-25","v":-0.3,"g":42},{"t":"2010-07-01","v":-0.51,"g":42},{"t":"2010-07-08","v":0.1,"g":42},{"t":"2010-07-16","v":0.19,"g":42},{"t":"2010-07-24","v":-0.2,"g":42},{"t":"2010-08-03","v":-0.19,"g":42},{"t":"2010-08-12","v":0.1,"g":42},{"t":"2010-08-25","v":0.19,"g":42},{"t":"2010-09-10","v":-0.1,"g":42},{"t":"2010-10-08","v":0.0,"g":42},{"t":"2010-10-15","v":-0.2,"g":42},{"t":"2010-10-20","v":0.51,"g":42},{"t":"2010-10-26","v":-0.2,"g":42},{"t":"2010-11-03","v":-0.57,"g":42},{"t":"2010-11-10","v":-0.1,"g":42},{"t":"2010-11-25","v":-0.89,"g":42},{"t":"2010-12-01","v":-0.3,"g":42},{"t":"2010-12-10","v":-1.21,"g":42},{"t":"2010-12-16","v":-0.63,"g":42},{"t":"2010-12-22","v":-0.3,"g":42},{"t":"2010-12-28","v":-1.4,"g":42},{"t":"2011-01-04","v":-0.6,"g":42},{"t":"2011-01-12","v":-1.84,"g":42},{"t":"2011-01-16","v":-0.8,"g":42},{"t":"2011-01-20","v":-2.86,"g":42},{"t":"2011-01-24","v":-1.0,"g":42},{"t":"2011-01-27","v":-1.59,"g":42},{"t":"2011-02-02","v":-0.7,"g":42},{"t":"2011-02-17","v":-1.97,"g":42},{"t":"2011-02-22","v":-0.9,"g":42},{"t":"2011-02-28","v":-1.71,"g":42},{"t":"2011-03-04","v":-0.8,"g":42},{"t":"2011-03-08","v":-1.9,"g":42},{"t":"2011-03-14","v":-0.9,"g":42},{"t":"2011-03-24","v":-2.48,"g":42},{"t":"2011-03-30","v":-1.0,"g":42},{"t":"2011-04-07","v":-1.21,"g":42},{"t":"2011-04-13","v":-0.4,"g":42},{"t":"2011-04-20","v":-0.57,"g":42},{"t":"2011-04-26","v":-0.3,"g":42},{"t":"2011-05-01","v":-1.65,"g":42},{"t":"2011-05-06","v":-0.4,"g":42},{"t":"2011-05-16","v":-0.95,"g":42},{"t":"2011-05-21","v":-0.2,"g":42},{"t":"2011-05-31","v":-1.4,"g":42},{"t":"2011-06-05","v":-0.3,"g":42},{"t":"2011-06-10","v":-0.57,"g":42},{"t":"2011-06-15","v":0.2,"g":42},{"t":"2011-06-18","v":0.95,"g":42},{"t":"2011-06-23","v":-0.19,"g":42},{"t":"2011-06-28","v":0.3,"g":42},{"t":"2011-07-08","v":0.73,"g":42},{"t":"2011-07-12","v":0.1,"g":42},{"t":"2011-07-16","v":-0.06,"g":42},
{"t":"2012-06-14","v":-1.21,"g":43},{"t":"2012-06-17","v":-0.4,"g":43},{"t":"2012-06-20","v":-0.9,"g":43},{"t":"2012-06-24","v":-0.25,"g":43},{"t":"2012-06-28","v":-0.57,"g":43},{"t":"2012-07-02","v":-0.2,"g":43},{"t":"2012-07-06","v":-0.06,"g":43},{"t":"2012-07-12","v":-0.3,"g":43},{"t":"2012-07-19","v":0.19,"g":43},{"t":"2012-07-25","v":0.0,"g":43},{"t":"2012-08-10","v":0.32,"g":43},{"t":"2012-08-16","v":0.1,"g":43},{"t":"2012-08-28","v":0.63,"g":43},{"t":"2012-09-04","v":0.2,"g":43},{"t":"2012-09-12","v":0.44,"g":43},{"t":"2012-09-18","v":0.1,"g":43},{"t":"2012-09-27","v":0.7,"g":43},{"t":"2012-10-03","v":0.2,"g":43},{"t":"2012-10-10","v":0.63,"g":43},{"t":"2012-10-16","v":0.1,"g":43},{"t":"2012-10-23","v":0.44,"g":43},{"t":"2012-10-29","v":0.05,"g":43},{"t":"2012-11-05","v":0.5,"g":43},{"t":"2012-11-12","v":0.25,"g":43},{"t":"2012-11-20","v":0.06,"g":43},
{"t":"2013-07-06","v":-0.06,"g":44},{"t":"2013-07-10","v":0.6,"g":44},{"t":"2013-07-14","v":1.21,"g":44},{"t":"2013-07-17","v":0.2,"g":44},{"t":"2013-07-27","v":3.37,"g":44},{"t":"2013-07-29","v":0.4,"g":44},{"t":"2013-08-03","v":1.21,"g":44},{"t":"2013-08-08","v":0.3,"g":44},{"t":"2013-08-14","v":1.46,"g":44},{"t":"2013-08-18","v":0.2,"g":44},{"t":"2013-08-24","v":0.57,"g":44},{"t":"2013-08-29","v":0.1,"g":44},{"t":"2013-09-05","v":0.95,"g":44},{"t":"2013-09-10","v":0.2,"g":44},{"t":"2013-09-16","v":1.14,"g":44},{"t":"2013-09-21","v":0.1,"g":44},{"t":"2013-09-27","v":0.57,"g":44},{"t":"2013-10-02","v":0.1,"g":44},{"t":"2013-10-12","v":0.83,"g":44},{"t":"2013-10-18","v":0.06,"g":44},{"t":"2013-10-25","v":-0.06,"g":44},{"t":"2013-11-02","v":-0.32,"g":44},{"t":"2013-11-08","v":0.1,"g":44},{"t":"2013-11-15","v":-0.57,"g":44},{"t":"2013-11-22","v":-0.2,"g":44},{"t":"2013-11-29","v":-0.95,"g":44},{"t":"2013-12-05","v":-0.4,"g":44},{"t":"2013-12-28","v":-1.21,"g":44},{"t":"2014-01-03","v":-0.6,"g":44},{"t":"2014-01-11","v":-1.84,"g":44},{"t":"2014-01-16","v":-0.9,"g":44},{"t":"2014-01-23","v":-2.48,"g":44},{"t":"2014-01-28","v":-1.3,"g":44},{"t":"2014-02-06","v":-3.43,"g":44},{"t":"2014-02-11","v":-1.5,"g":44},{"t":"2014-02-20","v":-1.71,"g":44},{"t":"2014-02-28","v":-2.48,"g":44},{"t":"2014-03-04","v":-1.3,"g":44},{"t":"2014-03-14","v":-3.46,"g":44},{"t":"2014-03-18","v":-1.6,"g":44},{"t":"2014-03-26","v":-1.84,"g":44},{"t":"2014-04-02","v":-2.5,"g":44},{"t":"2014-04-09","v":-3.3,"g":44},{"t":"2014-04-13","v":-1.5,"g":44},{"t":"2014-04-23","v":-1.84,"g":44},{"t":"2014-05-01","v":-0.6,"g":44},{"t":"2014-05-08","v":-0.89,"g":44},{"t":"2014-05-14","v":-0.2,"g":44},{"t":"2014-05-22","v":-0.25,"g":44},{"t":"2014-05-27","v":0.83,"g":44},{"t":"2014-06-01","v":0.0,"g":44},{"t":"2014-06-10","v":0.32,"g":44},{"t":"2014-06-18","v":0.1,"g":44},{"t":"2014-06-25","v":0.7,"g":44},{"t":"2014-07-01","v":0.2,"g":44},{"t":"2014-07-16","v":0.95,"g":44},{"t":"2014-07-22","v":0.3,"g":44},{"t":"2014-07-31","v":1.21,"g":44},{"t":"2014-08-05","v":0.4,"g":44},{"t":"2014-08-12","v":0.83,"g":44},{"t":"2014-08-18","v":0.3,"g":44},{"t":"2014-09-02","v":1.14,"g":44},{"t":"2014-09-08","v":0.5,"g":44},{"t":"2014-09-24","v":2.03,"g":44},{"t":"2014-09-28","v":0.8,"g":44},{"t":"2014-10-11","v":1.46,"g":44},{"t":"2014-10-14","v":0.6,"g":44},{"t":"2014-10-27","v":1.4,"g":44},{"t":"2014-11-03","v":0.5,"g":44},{"t":"2014-11-06","v":0.83,"g":44},{"t":"2014-11-17","v":0.06,"g":44},{"t":"2014-12-01","v":-0.25,"g":44},{"t":"2014-12-10","v":0.1,"g":44},{"t":"2014-12-16","v":-0.57,"g":44},{"t":"2014-12-24","v":-1.94,"g":44},{"t":"2014-12-28","v":-0.3,"g":44},{"t":"2015-01-04","v":0.38,"g":44},{"t":"2015-01-12","v":-0.3,"g":44},{"t":"2015-01-19","v":-0.06,"g":44},{"t":"2015-02-02","v":0.57,"g":44},{"t":"2015-02-06","v":-0.1,"g":44},{"t":"2015-02-14","v":1.02,"g":44},{"t":"2015-02-20","v":0.0,"g":44},{"t":"2015-03-01","v":-0.57,"g":44},{"t":"2015-03-05","v":0.1,"g":44},{"t":"2015-03-14","v":-1.21,"g":44},{"t":"2015-03-20","v":-0.3,"g":44},{"t":"2015-03-28","v":0.32,"g":44},{"t":"2015-04-04","v":-0.2,"g":44},{"t":"2015-04-12","v":-0.7,"g":44},{"t":"2015-04-18","v":0.0,"g":44},{"t":"2015-04-25","v":0.06,"g":44},{"t":"2015-05-03","v":0.7,"g":44},{"t":"2015-05-10","v":0.1,"g":44},{"t":"2015-05-30","v":0.06,"g":44},{"t":"2015-06-10","v":0.95,"g":44},{"t":"2015-06-20","v":0.2,"g":44},{"t":"2015-06-25","v":0.06,"g":44}
]
},
"vconcat": [
{
 "title": {"text": "A", "anchor": "start", "frame": "bounds", "font": "Liberation Sans", "fontSize": 20, "fontWeight": "bold", "offset": -32, "dx": 7},
 "vconcat": [{
  "width": 760, "height": 498,
  "title": {"text": "pCO₂sw"},
  "encoding": {
   "x": {"field": "t", "type": "temporal", "scale": {"domain": [{"year": 2008, "month": 5, "date": 31}, {"year": 2016, "month": 12, "date": 31}], "nice": false},
         "axis": {"values": [{"year": 2009, "month": 1, "date": 1}, {"year": 2010, "month": 1, "date": 1}, {"year": 2011, "month": 1, "date": 1}, {"year": 2012, "month": 1, "date": 1}, {"year": 2013, "month": 1, "date": 1}, {"year": 2014, "month": 1, "date": 1}, {"year": 2015, "month": 1, "date": 1}, {"year": 2016, "month": 1, "date": 1}], "format": "%Y", "labelAngle": -30, "labelAlign": "right", "labelBaseline": "top", "labelFontSize": 20, "titleFontSize": 20, "title": "Time", "titlePadding": 12, "labelOverlap": false, "labelFlush": false}},
   "y": {"field": "v", "type": "quantitative", "scale": {"domain": [301, 518.5], "nice": false, "zero": false},
         "axis": {"values": [325, 350, 375, 400, 425, 450, 475, 500], "labelFontSize": 20, "titleFontSize": 20, "title": "pCO₂sw (µatm)", "titlePadding": 10}},
   "detail": {"field": "g", "type": "nominal"}
  },
  "layer": [
   {"data": {"name": "kA"}, "mark": {"type": "line", "strokeWidth": 2.1, "clip": true},
    "encoding": {"color": {"datum": "Kilo Nalu", "type": "nominal", "scale": {"domain": ["Kilo Nalu", "WHOTS", "Air"], "range": ["#f4d43a", "#00007f", "#000000"]},
      "legend": {"orient": "none", "legendX": 188, "legendY": 8, "direction": "horizontal", "title": null, "symbolType": "stroke", "symbolSize": 1296, "symbolStrokeWidth": 2, "labelFont": "DejaVu Sans", "labelFontSize": 16, "labelColor": "black", "labelOffset": 12, "columnPadding": 33, "strokeColor": "#d0d0d0", "fillColor": "white", "padding": 7, "cornerRadius": 3}}}},
   {"data": {"name": "wA"}, "mark": {"type": "line", "strokeWidth": 2.2, "clip": true},
    "encoding": {"color": {"datum": "WHOTS", "type": "nominal"}}},
   {"data": {"name": "aA"}, "mark": {"type": "line", "strokeWidth": 2.2, "clip": true},
    "encoding": {"color": {"datum": "Air", "type": "nominal"}}}
  ]
 }]
},
{
 "title": {"text": "B", "anchor": "start", "frame": "bounds", "font": "Liberation Sans", "fontSize": 20, "fontWeight": "bold", "offset": -17, "dx": -32},
 "vconcat": [{
  "width": 755, "height": 496,
  "title": {"text": "Instantaneous Air-Sea CO₂ Flux"},
  "encoding": {
   "x": {"field": "t", "type": "temporal", "scale": {"domain": [{"year": 2008, "month": 5, "date": 31}, {"year": 2016, "month": 12, "date": 31}], "nice": false},
         "axis": {"values": [{"year": 2009, "month": 1, "date": 1}, {"year": 2010, "month": 1, "date": 1}, {"year": 2011, "month": 1, "date": 1}, {"year": 2012, "month": 1, "date": 1}, {"year": 2013, "month": 1, "date": 1}, {"year": 2014, "month": 1, "date": 1}, {"year": 2015, "month": 1, "date": 1}, {"year": 2016, "month": 1, "date": 1}], "format": "%Y", "labelAngle": -30, "labelAlign": "right", "labelBaseline": "top", "labelFontSize": 20, "titleFontSize": 20, "title": "Time", "titlePadding": 7, "labelOverlap": false, "labelFlush": false}},
   "y": {"field": "v", "type": "quantitative", "scale": {"domain": [-5.62, 3.83], "nice": false, "zero": false},
         "axis": {"values": [-4, -2, 0, 2], "format": "d", "labelFontSize": 20, "titleFontSize": 20, "title": "Air-Sea CO₂ Flux (mol C/m²/yr)", "titleX": 784, "titleY": 248, "titleAngle": -90, "titleAlign": "center", "titleBaseline": "bottom"}},
   "detail": {"field": "g", "type": "nominal"}
  },
  "layer": [
   {"data": {"name": "wB"}, "mark": {"type": "line", "strokeWidth": 2.7, "clip": true},
    "encoding": {"color": {"datum": "WHOTS", "type": "nominal", "scale": {"domain": ["Kilo Nalu", "WHOTS"], "range": ["#f4d43a", "#00007f"]},
      "legend": {"orient": "none", "legendX": 238, "legendY": 7, "direction": "horizontal", "title": null, "symbolType": "stroke", "symbolSize": 1296, "symbolStrokeWidth": 2, "labelFont": "DejaVu Sans", "labelFontSize": 16, "labelColor": "black", "labelOffset": 12, "columnPadding": 33, "strokeColor": "#d0d0d0", "fillColor": "white", "padding": 7, "cornerRadius": 3}}}},
   {"data": {"name": "kB"}, "mark": {"type": "line", "strokeWidth": 2.6, "clip": true},
    "encoding": {"color": {"datum": "Kilo Nalu", "type": "nominal"}}},
   {"data": {"values": [{}]}, "mark": {"type": "rule", "color": "black", "strokeWidth": 1.3},
    "encoding": {"x": {"datum": {"year": 2008, "month": 8, "date": 22}, "type": "temporal"}, "x2": {"datum": {"year": 2016, "month": 12, "date": 31}}, "y": {"datum": 0, "type": "quantitative"}}}
  ]
 }]
}
]
}
